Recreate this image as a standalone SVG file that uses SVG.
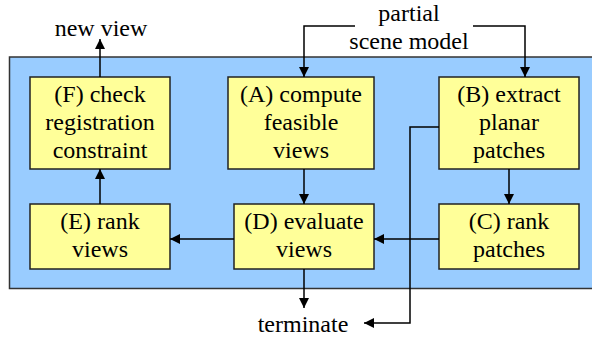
<svg xmlns="http://www.w3.org/2000/svg" width="592" height="337" viewBox="0 0 592 337">
<defs>
<marker id="ah" viewBox="0 0 10 10" refX="10" refY="5" markerWidth="10" markerHeight="10" markerUnits="userSpaceOnUse" orient="auto">
<path d="M0,0 L10,5 L0,10 z" fill="#000"/>
</marker>
</defs>
<rect fill="#99CCFF" stroke="#333" stroke-width="1.5" x="9.5" y="57" width="590" height="231.5"/>
<g id="F"><rect fill="#FFFF99" stroke="#222" stroke-width="1.5" x="30" y="77" width="140" height="92"/>
<text font-family="Liberation Serif" font-size="24" text-anchor="middle" x="100" y="102">(F) check</text><text font-family="Liberation Serif" font-size="24" text-anchor="middle" x="100" y="130">registration</text><text font-family="Liberation Serif" font-size="24" text-anchor="middle" x="100" y="158">constraint</text></g>
<g id="A"><rect fill="#FFFF99" stroke="#222" stroke-width="1.5" x="228" y="77" width="146" height="92"/>
<text font-family="Liberation Serif" font-size="24" text-anchor="middle" x="301" y="102">(A) compute</text><text font-family="Liberation Serif" font-size="24" text-anchor="middle" x="301" y="130">feasible</text><text font-family="Liberation Serif" font-size="24" text-anchor="middle" x="301" y="158">views</text></g>
<g id="B"><rect fill="#FFFF99" stroke="#222" stroke-width="1.5" x="439" y="77" width="140" height="92"/>
<text font-family="Liberation Serif" font-size="24" text-anchor="middle" x="509" y="102">(B) extract</text><text font-family="Liberation Serif" font-size="24" text-anchor="middle" x="509" y="130">planar</text><text font-family="Liberation Serif" font-size="24" text-anchor="middle" x="509" y="158">patches</text></g>
<g id="E"><rect fill="#FFFF99" stroke="#222" stroke-width="1.5" x="30" y="204" width="140" height="65"/>
<text font-family="Liberation Serif" font-size="24" text-anchor="middle" x="100" y="229">(E) rank</text><text font-family="Liberation Serif" font-size="24" text-anchor="middle" x="100" y="257">views</text></g>
<g id="D"><rect fill="#FFFF99" stroke="#222" stroke-width="1.5" x="234" y="204" width="140" height="65"/>
<text font-family="Liberation Serif" font-size="24" text-anchor="middle" x="304" y="229">(D) evaluate</text><text font-family="Liberation Serif" font-size="24" text-anchor="middle" x="304" y="257">views</text></g>
<g id="C"><rect fill="#FFFF99" stroke="#222" stroke-width="1.5" x="439" y="204" width="140" height="65"/>
<text font-family="Liberation Serif" font-size="24" text-anchor="middle" x="509" y="229">(C) rank</text><text font-family="Liberation Serif" font-size="24" text-anchor="middle" x="509" y="257">patches</text></g>
<g id="labels">
<text font-family="Liberation Serif" font-size="24" text-anchor="middle" x="101" y="36">new view</text>
<text font-family="Liberation Serif" font-size="24" text-anchor="middle" x="409" y="21">partial</text>
<text font-family="Liberation Serif" font-size="24" text-anchor="middle" x="409" y="49">scene model</text>
<text font-family="Liberation Serif" font-size="24" text-anchor="middle" x="303" y="332">terminate</text>
</g>
<g id="connectors" fill="none" stroke="#000" stroke-width="1.5">
<path d="M355,26 H304 V77" marker-end="url(#ah)"/>
<path d="M473,26 H525 V77" marker-end="url(#ah)"/>
<path d="M100,77 V39" marker-end="url(#ah)"/>
<path d="M304,169 V204" marker-end="url(#ah)"/>
<path d="M509,169 V204" marker-end="url(#ah)"/>
<path d="M100,204 V169" marker-end="url(#ah)"/>
<path d="M439,239 H374" marker-end="url(#ah)"/>
<path d="M234,239 H170" marker-end="url(#ah)"/>
<path d="M304,269 V308" marker-end="url(#ah)"/>
<path d="M439,127 H410 V323 H364" marker-end="url(#ah)"/>
</g>
</svg>
